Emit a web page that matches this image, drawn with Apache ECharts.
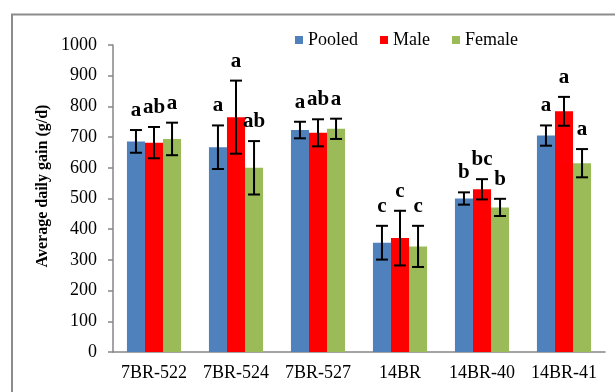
<!DOCTYPE html>
<html>
<head>
<meta charset="utf-8">
<script src="https://cdn.jsdelivr.net/npm/echarts@6/dist/echarts.min.js"></script>
<style>
  html, body { margin: 0; padding: 0; background: #fff; }
  #chart { width: 615px; height: 392px; }
</style>
</head>
<body>
<div id="chart"></div>
<script>
// lines / categories
const categories = ['7BR-522', '7BR-524', '7BR-527', '14BR', '14BR-40', '14BR-41']
const seriesNames = ['Pooled', 'Male', 'Female']

// mean daily gain (g/d)
const pooled = [686, 667, 723, 356, 500, 705]
const male = [682, 765, 714, 371, 530, 784]
const female = [694, 600, 727, 344, 471, 615]

// error bars (+/-)
const pooledErr = [37, 71, 27, 55, 20, 33]
const maleErr = [51, 119, 44, 89, 33, 47]
const femaleErr = [53, 87, 33, 67, 28, 46]

// significance letters
const pooledSig = ['a', 'a', 'a', 'c', 'b', 'a']
const maleSig = ['ab', 'a', 'ab', 'c', 'bc', 'a']
const femaleSig = ['a', 'ab', 'a', 'c', 'b', 'a']

const colors = ['#4f81bd', '#ff0000', '#9bbb59']
const font = 'Liberation Serif'
const catGap = 0.34

const means = [pooled, male, female]
const errs = [pooledErr, maleErr, femaleErr]
const sigs = [pooledSig, maleSig, femaleSig]

// one item per bar: [category, series index, mean, err, letter]
const errData = []
for (let s = 0; s < 3; s++) {
  for (let i = 0; i < categories.length; i++) {
    errData.push([i, s, means[s][i], errs[s][i], sigs[s][i]])
  }
}

const chart = echarts.init(document.getElementById('chart'))

chart.setOption({
  animation: false,
  color: colors,
  textStyle: { fontFamily: font },
  grid: { left: 113, right: 10, top: 45, bottom: 40 },
  legend: {
    data: seriesNames,
    left: 290,
    top: 26,
    icon: 'rect',
    itemWidth: 8,
    itemHeight: 8,
    itemGap: 22,
    textStyle: { fontFamily: font, fontSize: 18, color: '#000' }
  },
  graphic: [
    {
      type: 'rect',
      shape: { x: 12, y: 14.5, width: 800, height: 600 },
      style: { fill: 'none', stroke: '#8c8c8c', lineWidth: 2 },
      silent: true
    },
    {
      type: 'text',
      x: 43,
      y: 186,
      rotation: Math.PI / 2,
      style: {
        text: 'Average daily gain (g/d)',
        fontFamily: font,
        fontSize: 16,
        fontWeight: 'bold',
        fill: '#000',
        textAlign: 'center',
        textVerticalAlign: 'middle'
      }
    }
  ],
  xAxis: {
    type: 'category',
    data: categories,
    axisLine: { lineStyle: { color: '#868686', width: 1.5 } },
    axisTick: { length: 5, lineStyle: { color: '#868686', width: 1.5 } },
    axisLabel: {
      color: '#000', fontFamily: font, fontSize: 18, margin: 12,
      interval: 0, hideOverlap: false
    }
  },
  yAxis: {
    type: 'value',
    min: 0,
    max: 1000,
    interval: 100,
    splitLine: { show: false },
    axisLine: { show: true, lineStyle: { color: '#868686', width: 1.5 } },
    axisTick: { show: true, length: 5, lineStyle: { color: '#868686', width: 1.5 } },
    axisLabel: {
      color: '#000', fontFamily: font, fontSize: 18, margin: 16,
      formatter: function (v) { return String(v) }
    }
  },
  series: [
    {
      name: seriesNames[0], type: 'bar', data: pooled,
      barGap: '0%', barCategoryGap: (catGap * 100) + '%'
    },
    { name: seriesNames[1], type: 'bar', data: male },
    { name: seriesNames[2], type: 'bar', data: female },
    {
      type: 'custom',
      data: errData,
      z: 10,
      encode: { x: 0, y: 2 },
      renderItem: function (params, api) {
        const cat = api.value(0)
        const s = api.value(1)
        const mean = api.value(2)
        const err = api.value(3)
        const letter = errData[params.dataIndex][4]
        const cw = api.size([1, 0])[0]
        const bw = cw * (1 - catGap) / 3
        const c = api.coord([cat, mean])
        const x = c[0] + (s - 1) * bw
        const top = api.coord([cat, mean + err])[1]
        const bot = api.coord([cat, mean - err])[1]
        const cap = 6
        const line = { stroke: '#000', lineWidth: 2 }
        return {
          type: 'group',
          children: [
            { type: 'line', shape: { x1: x, y1: top, x2: x, y2: bot }, style: line },
            { type: 'line', shape: { x1: x - cap, y1: top, x2: x + cap, y2: top }, style: line },
            { type: 'line', shape: { x1: x - cap, y1: bot, x2: x + cap, y2: bot }, style: line },
            {
              type: 'text',
              x: x,
              y: top - 9,
              style: {
                text: letter,
                fontFamily: font,
                fontSize: 21,
                fontWeight: 'bold',
                fill: '#000',
                textAlign: 'center',
                textVerticalAlign: 'bottom'
              }
            }
          ]
        }
      }
    }
  ]
})
</script>
</body>
</html>
